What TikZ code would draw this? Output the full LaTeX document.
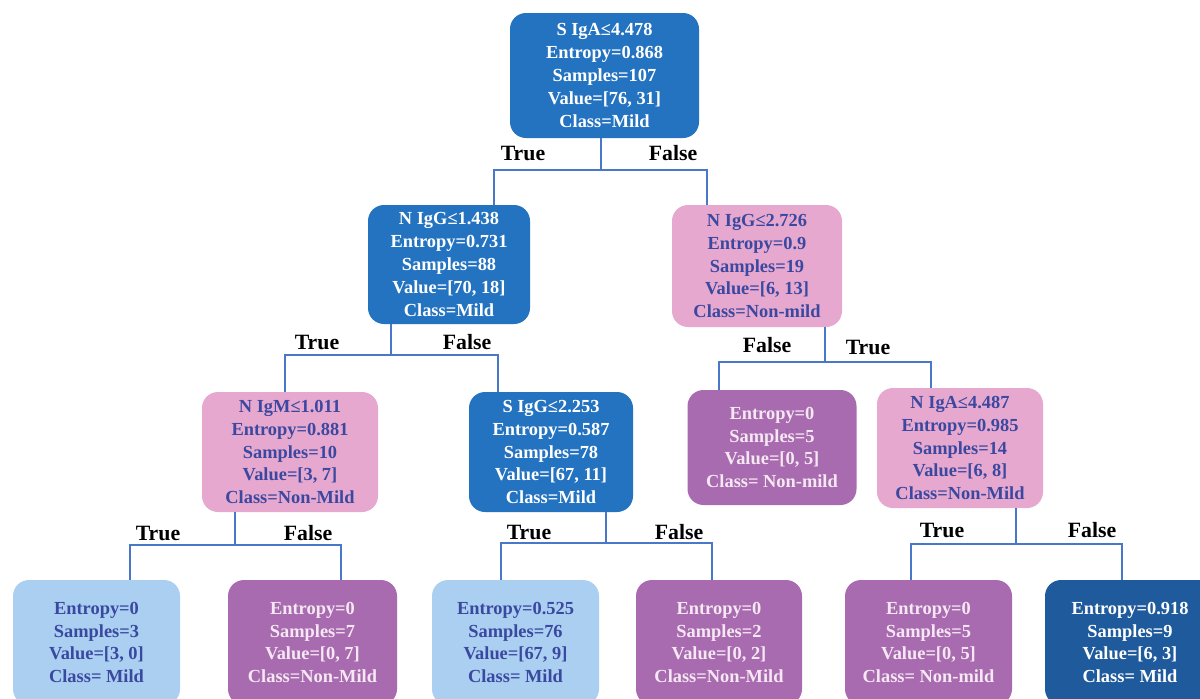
\documentclass[tikz,border=0pt]{standalone}
\usepackage{fontspec}
\setmainfont{Liberation Serif}
\usetikzlibrary{calc}
\definecolor{splitblue}{HTML}{2473C1}
\definecolor{nonpink}{HTML}{E7A8CF}
\definecolor{purepurple}{HTML}{A86BB0}
\definecolor{mildlight}{HTML}{AACFF0}
\definecolor{milddark}{HTML}{1F5B9C}
\definecolor{inkblue}{HTML}{3A48A0}
\definecolor{inkpale}{HTML}{F6E8F3}
\definecolor{linkblue}{HTML}{4A78C8}

\begin{document}
\begin{tikzpicture}[x=0.5pt, y=-0.5pt,
    box/.style={rounded corners=8pt, align=center, inner sep=0pt,
                font=\fontsize{9.2}{11.4}\selectfont\bfseries},
    splitbox/.style={box, fill=splitblue, text=white},
    nonbox/.style={box, fill=nonpink, text=inkblue},
    purebox/.style={box, fill=purepurple, text=inkpale},
    lightbox/.style={box, fill=mildlight, text=inkblue},
    darkbox/.style={box, fill=milddark, text=white},
    lbl/.style={font=\fontsize{10.9}{12}\selectfont\bfseries, text=black, inner sep=0pt},
    link/.style={draw=linkblue, line width=1pt}]
  \useasboundingbox (0,0) rectangle (1200,698);
  % split nodes
  \node[splitbox, minimum width=94.5pt, minimum height=62.5pt] (root) at (604.5,75.5)
    {S IgA≤4.478\\Entropy=0.868\\Samples=107\\Value=[76, 31]\\Class=Mild};
  \node[splitbox, minimum width=81pt, minimum height=59.5pt] (nigg) at (449,264.5)
    {N IgG≤1.438\\Entropy=0.731\\Samples=88\\Value=[70, 18]\\Class=Mild};
  \node[nonbox, minimum width=85pt, minimum height=61pt] (niggb) at (757,266)
    {N IgG≤2.726\\Entropy=0.9\\Samples=19\\Value=[6, 13]\\Class=Non-mild};
  \node[nonbox, minimum width=88pt, minimum height=60pt] (nigm) at (290,452)
    {N IgM≤1.011\\Entropy=0.881\\Samples=10\\Value=[3, 7]\\Class=Non-Mild};
  \node[splitbox, minimum width=82pt, minimum height=60pt] (sigg) at (551,452)
    {S IgG≤2.253\\Entropy=0.587\\Samples=78\\Value=[67, 11]\\Class=Mild};
  \node[purebox, minimum width=84.5pt, minimum height=57.5pt] (leafe) at (772,447.5)
    {Entropy=0\\Samples=5\\Value=[0, 5]\\Class= Non-mild};
  \node[nonbox, minimum width=83pt, minimum height=60pt] (niga) at (960,448)
    {N IgA≤4.487\\Entropy=0.985\\Samples=14\\Value=[6, 8]\\Class=Non-Mild};
  % leaves
  \node[lightbox, minimum width=83.5pt, minimum height=62.5pt] (leafa) at (96.5,642.5)
    {Entropy=0\\Samples=3\\Value=[3, 0]\\Class= Mild};
  \node[purebox, minimum width=84.5pt, minimum height=62.5pt] (leafb) at (312.5,642.5)
    {Entropy=0\\Samples=7\\Value=[0, 7]\\Class=Non-Mild};
  \node[lightbox, minimum width=83.5pt, minimum height=62.5pt] (leafc) at (515.5,642.5)
    {Entropy=0.525\\Samples=76\\Value=[67, 9]\\Class= Mild};
  \node[purebox, minimum width=83pt, minimum height=62.5pt] (leafd) at (719,642.5)
    {Entropy=0\\Samples=2\\Value=[0, 2]\\Class=Non-Mild};
  \node[purebox, minimum width=83.5pt, minimum height=62.5pt] (leaff) at (928.5,642.5)
    {Entropy=0\\Samples=5\\Value=[0, 5]\\Class= Non-mild};
  \node[darkbox, minimum width=85pt, minimum height=62.5pt] (leafg) at (1130,642.5)
    {Entropy=0.918\\Samples=9\\Value=[6, 3]\\Class= Mild};
  % connectors
  \draw[link] ($(root.south)+(-3.5,0)$) -- ++(0,32) -| ($(nigg.north)+(45,0)$);
  \draw[link] ($(root.south)+(-3.5,0)$) -- ++(0,32) -| ($(niggb.north)+(-50,0)$);
  \draw[link] ($(nigg.south)+(-58,0)$) -- ++(0,31) -| ($(nigm.north)+(-5,0)$);
  \draw[link] ($(nigg.south)+(-58,0)$) -- ++(0,31) -| ($(sigg.north)+(-53,0)$);
  \draw[link] ($(niggb.south)+(68,0)$) -- ++(0,35) -| ($(leafe.north)+(-53,0)$);
  \draw[link] ($(niggb.south)+(68,0)$) -- ++(0,35) -| ($(niga.north)+(-29,0)$);
  \draw[link] ($(nigm.south)+(-55,0)$) -- ++(0,33) -| ($(leafa.north)+(33.5,0)$);
  \draw[link] ($(nigm.south)+(-55,0)$) -- ++(0,33) -| ($(leafb.north)+(28.5,0)$);
  \draw[link] ($(sigg.south)+(55,0)$) -- ++(0,31) -| ($(leafc.north)+(-14.5,0)$);
  \draw[link] ($(sigg.south)+(55,0)$) -- ++(0,31) -| ($(leafd.north)+(-7,0)$);
  \draw[link] ($(niga.south)+(56,0)$) -- ++(0,36) -| ($(leaff.north)+(-17.5,0)$);
  \draw[link] ($(niga.south)+(56,0)$) -- ++(0,36) -| ($(leafg.north)+(-8,0)$);
  % branch labels
  \node[lbl] (rtrue) at (523,153) {True};
  \node[lbl] (rfalse) at (673,153) {False};
  \node[lbl] (atrue) at (317,342) {True};
  \node[lbl] (afalse) at (467,342) {False};
  \node[lbl] (bfalse) at (767,345) {False};
  \node[lbl] (btrue) at (868,347) {True};
  \node[lbl] (ctrue) at (158,533) {True};
  \node[lbl] (cfalse) at (308,533) {False};
  \node[lbl] (dtrue) at (529,532) {True};
  \node[lbl] (dfalse) at (679,532) {False};
  \node[lbl] (etrue) at (942,530) {True};
  \node[lbl] (efalse) at (1092,530) {False};
\end{tikzpicture}
\end{document}
